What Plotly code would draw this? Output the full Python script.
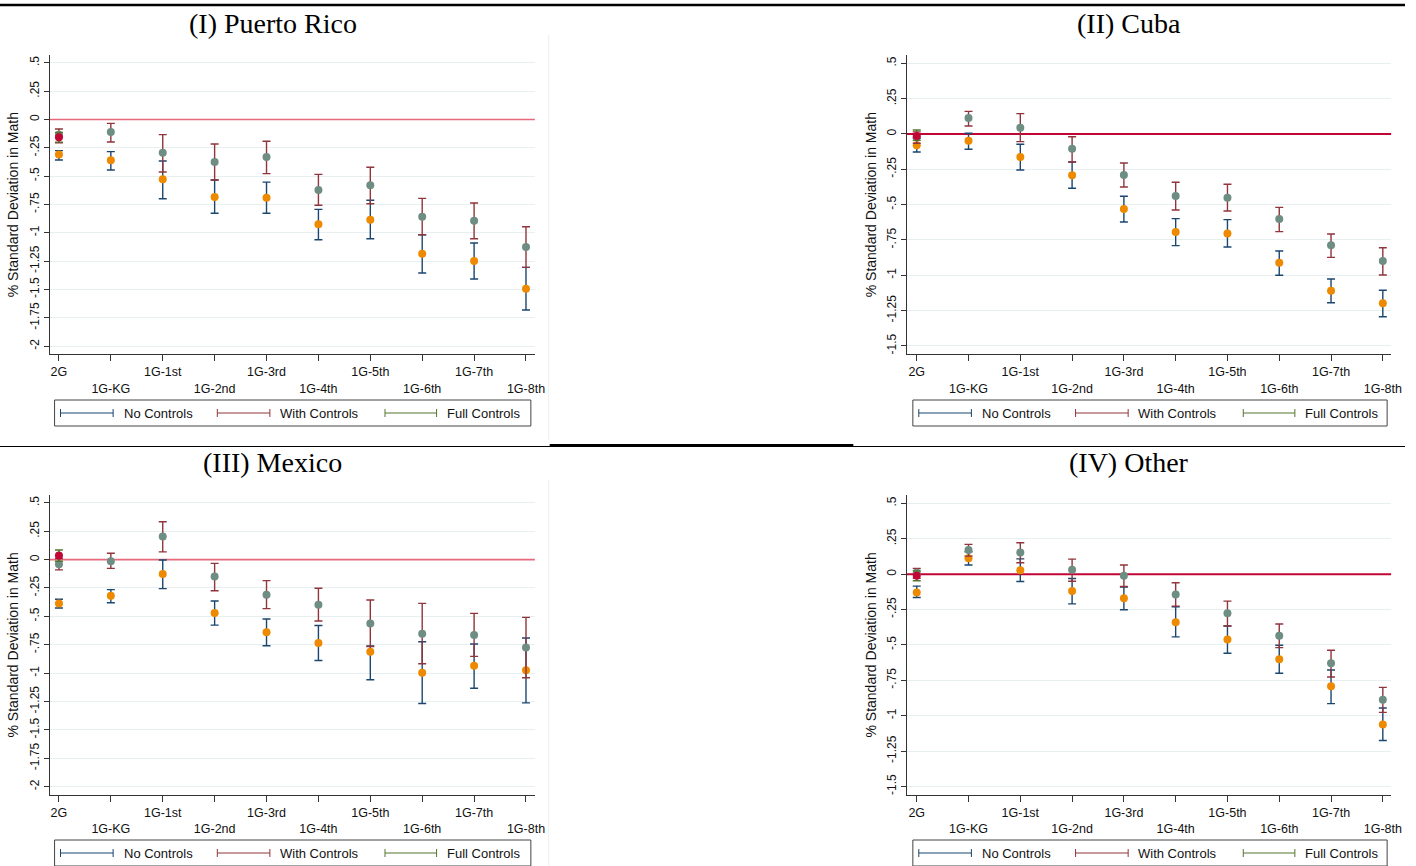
import plotly.graph_objects as go

# page size in px, paper coords are built from these
W, H = 1416, 866

CATEGORIES = ["2G", "1G-KG", "1G-1st", "1G-2nd", "1G-3rd", "1G-4th", "1G-5th", "1G-6th", "1G-7th", "1G-8th"]
SERIES = ["No Controls", "With Controls", "Full Controls"]
TITLES = ["(I) Puerto Rico", "(II) Cuba", "(III) Mexico", "(IV) Other"]
Y_TITLE = "% Standard Deviation in Math"

# (I) Puerto Rico
pr_no = [-0.31, -0.36, -0.528, -0.684, -0.69, -0.925, -0.884, -1.185, -1.249, -1.493]
pr_no_lo = [-0.357, -0.446, -0.699, -0.828, -0.828, -1.061, -1.052, -1.355, -1.408, -1.681]
pr_no_hi = [-0.275, -0.284, -0.366, -0.534, -0.553, -0.793, -0.713, -1.017, -1.09, -1.305]
pr_with = [-0.134, -0.11, -0.293, -0.375, -0.331, -0.622, -0.581, -0.858, -0.893, -1.125]
pr_with_lo = [-0.205, -0.199, -0.463, -0.534, -0.478, -0.757, -0.743, -1.017, -1.052, -1.305]
pr_with_hi = [-0.084, -0.034, -0.134, -0.216, -0.192, -0.484, -0.422, -0.696, -0.737, -0.946]
pr_full = [-0.157]
pr_full_lo = [-0.2]
pr_full_hi = [-0.115]

# (II) Cuba
cu_no = [-0.08, -0.047, -0.163, -0.292, -0.531, -0.694, -0.705, -0.911, -1.109, -1.198]
cu_no_lo = [-0.127, -0.108, -0.255, -0.384, -0.623, -0.79, -0.8, -1.0, -1.194, -1.293]
cu_no_hi = [-0.03, 0.005, -0.073, -0.198, -0.441, -0.599, -0.606, -0.828, -1.026, -1.106]
cu_with = [-0.025, 0.113, 0.045, -0.104, -0.29, -0.439, -0.451, -0.602, -0.788, -0.899]
cu_with_lo = [-0.065, 0.057, -0.054, -0.198, -0.375, -0.538, -0.545, -0.691, -0.873, -0.998]
cu_with_hi = [0.015, 0.16, 0.144, -0.019, -0.205, -0.342, -0.356, -0.519, -0.708, -0.805]
cu_full = [-0.014]
cu_full_lo = [-0.045]
cu_full_hi = [0.028]

# (III) Mexico
mx_no = [-0.386, -0.318, -0.127, -0.471, -0.641, -0.735, -0.812, -0.997, -0.936, -0.974]
mx_no_lo = [-0.427, -0.38, -0.256, -0.577, -0.759, -0.889, -1.059, -1.268, -1.133, -1.262]
mx_no_hi = [-0.35, -0.265, -0.003, -0.365, -0.524, -0.58, -0.76, -0.724, -0.744, -0.691]
mx_with = [-0.041, -0.015, 0.203, -0.15, -0.309, -0.397, -0.562, -0.653, -0.665, -0.774]
mx_with_lo = [-0.091, -0.077, 0.068, -0.274, -0.432, -0.541, -0.765, -0.918, -0.853, -1.041]
mx_with_hi = [0.01, 0.056, 0.333, -0.033, -0.185, -0.253, -0.356, -0.386, -0.474, -0.509]
mx_full = [0.035]
mx_full_lo = [-0.015]
mx_full_hi = [0.085]

# (IV) Other
ot_no = [-0.13, 0.113, 0.028, -0.12, -0.17, -0.34, -0.462, -0.602, -0.793, -1.062]
ot_no_lo = [-0.165, 0.064, -0.052, -0.21, -0.252, -0.443, -0.559, -0.7, -0.915, -1.175]
ot_no_hi = [-0.085, 0.158, 0.108, -0.031, -0.092, -0.231, -0.366, -0.502, -0.677, -0.946]
ot_with = [0.009, 0.17, 0.153, 0.031, -0.012, -0.144, -0.276, -0.436, -0.63, -0.887]
ot_with_lo = [-0.03, 0.127, 0.08, -0.05, -0.087, -0.226, -0.366, -0.519, -0.727, -0.977]
ot_with_hi = [0.04, 0.21, 0.222, 0.106, 0.064, -0.061, -0.191, -0.352, -0.538, -0.8]
ot_full = [-0.012]
ot_full_lo = [-0.047]
ot_full_hi = [0.023]

# y ticks: long scale for the left column, short for the right
Y_TICKS_LONG = [0.5, 0.25, 0, -0.25, -0.5, -0.75, -1, -1.25, -1.5, -1.75, -2]
Y_TEXT_LONG = [".5", ".25", "0", "-.25", "-.5", "-.75", "-1", "-1.25", "-1.5", "-1.75", "-2"]
Y_TICKS_SHORT = [0.5, 0.25, 0, -0.25, -0.5, -0.75, -1, -1.25, -1.5]
Y_TEXT_SHORT = [".5", ".25", "0", "-.25", "-.5", "-.75", "-1", "-1.25", "-1.5"]

# Stata s2color-ish palette
NAVY = "#1a476f"
MAROON = "#90353b"
FOREST = "#55752f"
ORANGE = "#ee8a00"
TEAL = "#6e8e84"
CRANBERRY = "#c10534"
PINK = "#e8687c"
GRID = "#e8eff1"
FONT = "Liberation Sans, Arial, sans-serif"
SERIF = "Liberation Serif, Times New Roman, serif"


def px(x):
    return x / W


def py(y):
    return 1 - y / H


panels = [
    dict(data=(pr_no, pr_no_lo, pr_no_hi, pr_with, pr_with_lo, pr_with_hi, pr_full, pr_full_lo, pr_full_hi),
         x0=50, x1=539, xr=[-0.18, 9.17], y0=55, y1=354.3, yr=[-2.072, 0.569],
         yt=(Y_TICKS_LONG, Y_TEXT_LONG), zw=1.6, zc=PINK, leg=(55, 535, 400), title=(275, 23)),
    dict(data=(cu_no, cu_no_lo, cu_no_hi, cu_with, cu_with_lo, cu_with_hi, cu_full, cu_full_lo, cu_full_hi),
         x0=914, x1=1402, xr=[-0.19, 9.16], y0=55, y1=354.3, yr=[-1.559, 0.559],
         yt=(Y_TICKS_SHORT, Y_TEXT_SHORT), zw=2, zc=CRANBERRY, leg=(920, 1398, 400), title=(1138, 23)),
    dict(data=(mx_no, mx_no_lo, mx_no_hi, mx_with, mx_with_lo, mx_with_hi, mx_full, mx_full_lo, mx_full_hi),
         x0=50, x1=539, xr=[-0.18, 9.17], y0=495, y1=794.8, yr=[-2.072, 0.569],
         yt=(Y_TICKS_LONG, Y_TEXT_LONG), zw=1.6, zc=PINK, leg=(55, 535, 840), title=(275, 463)),
    dict(data=(ot_no, ot_no_lo, ot_no_hi, ot_with, ot_with_lo, ot_with_hi, ot_full, ot_full_lo, ot_full_hi),
         x0=914, x1=1402, xr=[-0.19, 9.16], y0=495, y1=794.8, yr=[-1.559, 0.559],
         yt=(Y_TICKS_SHORT, Y_TEXT_SHORT), zw=2, zc=CRANBERRY, leg=(920, 1398, 840), title=(1138, 463)),
]

fig = go.Figure()
layout = {}
shapes = []
annotations = []
xs = list(range(len(CATEGORIES)))
# Stata staggers the category labels over two rows
staggered = [c if i % 2 == 0 else "<br>" + c for i, c in enumerate(CATEGORIES)]
tick_font = dict(family=FONT, size=12.5, color="#111")
ytick_font = dict(family=FONT, size=12, color="#111")

for k, p in enumerate(panels):
    n = k + 1
    xa, ya = ("x" if n == 1 else f"x{n}"), ("y" if n == 1 else f"y{n}")
    no, no_lo, no_hi, wi, wi_lo, wi_hi, fu, fu_lo, fu_hi = p["data"]

    # zero reference line under the markers (no grid line is drawn at 0)
    shapes.append(dict(type="line", xref=f"{xa} domain", yref=ya, x0=0, x1=1, y0=0, y1=0,
                       line=dict(color=p["zc"], width=p["zw"]), layer="below"))

    series = [
        (xs, no, no_lo, no_hi, NAVY, ORANGE, SERIES[0]),
        (xs, wi, wi_lo, wi_hi, MAROON, TEAL, SERIES[1]),
        (xs[:len(fu)], fu, fu_lo, fu_hi, FOREST, CRANBERRY, SERIES[2]),
    ]
    for sx, pt, lo, hi, ci_col, m_col, name in series:
        fig.add_trace(go.Scatter(
            x=sx, y=pt, mode="markers", name=name, xaxis=xa, yaxis=ya,
            marker=dict(color=m_col, size=8, line=dict(width=0)),
            error_y=dict(type="data", symmetric=False,
                         array=[h - v for h, v in zip(hi, pt)],
                         arrayminus=[v - l for v, l in zip(pt, lo)],
                         color=ci_col, thickness=1.4, width=4),
        ))

    layout[f"xaxis{'' if n == 1 else n}"] = dict(
        domain=[px(p["x0"]), px(p["x1"])], anchor=ya, range=p["xr"],
        showgrid=False, zeroline=False, showline=True, linecolor="#333", linewidth=1,
        tickmode="array", tickvals=xs, ticktext=staggered,
        ticks="outside", ticklen=6, tickcolor="#333", tickfont=tick_font,
    )
    layout[f"yaxis{'' if n == 1 else n}"] = dict(
        domain=[py(p["y1"]), py(p["y0"])], anchor=xa, range=p["yr"],
        tickmode="array", tickvals=p["yt"][0], ticktext=p["yt"][1], tickangle=-90,
        ticks="outside", ticklen=5, tickcolor="#333", tickfont=ytick_font,
        showline=True, linecolor="#333", linewidth=1,
        showgrid=False, zeroline=False,
        minor=dict(tickvals=[v for v in p["yt"][0] if v != 0], showgrid=True,
                   gridcolor=GRID, gridwidth=1, ticks=""),
        title=dict(text=Y_TITLE, font=dict(family=FONT, size=14, color="#111"), standoff=5),
    )

    # panel title
    tx, ty = p["title"]
    annotations.append(dict(x=px(tx), y=py(ty), xref="paper", yref="paper", text=TITLES[k],
                            showarrow=False, xanchor="center", yanchor="middle",
                            font=dict(family=SERIF, size=28, color="#000")))

    # Stata style legend box with capped line keys
    lx0, lx1, ly = p["leg"]
    shapes.append(dict(type="rect", xref="paper", yref="paper", x0=px(lx0), x1=px(lx1),
                       y0=py(ly + 26), y1=py(ly), line=dict(color="#444", width=1),
                       fillcolor="white", layer="below"))
    yc = ly + 13
    key_offsets = [(6, 59, 68), (164, 217, 225), (333, 385, 393)]
    for (a, b, t), col, name in zip(key_offsets, [NAVY, MAROON, FOREST], SERIES):
        k0, k1 = lx0 + a, lx0 + b
        shapes.append(dict(type="line", xref="paper", yref="paper", x0=px(k0), x1=px(k1),
                           y0=py(yc), y1=py(yc), line=dict(color=col, width=1)))
        for kx in (k0, k1):
            shapes.append(dict(type="line", xref="paper", yref="paper", x0=px(kx), x1=px(kx),
                               y0=py(yc - 4), y1=py(yc + 4), line=dict(color=col, width=1)))
        annotations.append(dict(x=px(lx0 + t), y=py(yc), xref="paper", yref="paper", text=name,
                                showarrow=False, xanchor="left", yanchor="middle",
                                font=dict(family=FONT, size=13, color="#111")))

# page separators from the original document
shapes += [
    dict(type="line", xref="paper", yref="paper", x0=0, x1=1, y0=py(5), y1=py(5),
         line=dict(color="#000", width=2.5)),
    dict(type="line", xref="paper", yref="paper", x0=0, x1=1, y0=py(446.5), y1=py(446.5),
         line=dict(color="#000", width=1.2)),
    dict(type="line", xref="paper", yref="paper", x0=px(554), x1=px(860), y0=py(445.5), y1=py(445.5),
         line=dict(color="#000", width=3)),
    dict(type="line", xref="paper", yref="paper", x0=px(553), x1=px(553), y0=py(35), y1=py(440),
         line=dict(color="#eeeeee", width=1)),
    dict(type="line", xref="paper", yref="paper", x0=px(553), x1=px(553), y0=py(480), y1=py(866),
         line=dict(color="#eeeeee", width=1)),
]

fig.update_layout(
    width=W, height=H,
    margin=dict(l=0, r=0, t=0, b=0),
    paper_bgcolor="white", plot_bgcolor="white",
    showlegend=False,
    shapes=shapes, annotations=annotations,
    **layout,
)

# keep the default config, just hide the mode bar with css
fig.write_html("out.html",
               post_script="document.body.style.margin='0';"
                           "document.querySelectorAll('.modebar-container')"
                           ".forEach(function(e){e.style.visibility='hidden';});")
